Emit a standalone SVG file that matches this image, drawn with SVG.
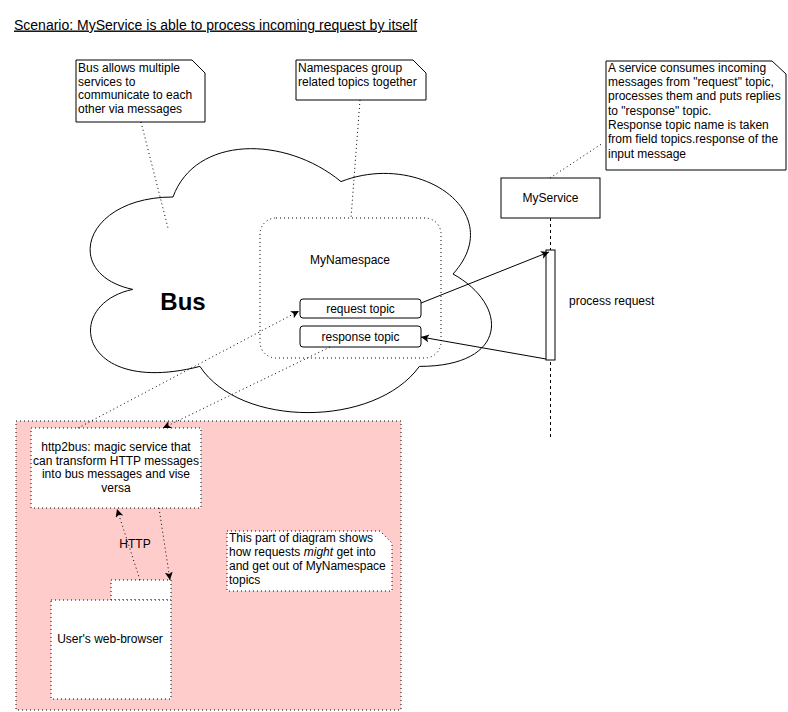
<svg xmlns="http://www.w3.org/2000/svg" width="788" height="712" viewBox="0 0 788 712">
<style>
  text { font-family: "Liberation Sans", Arial, Helvetica, sans-serif; font-size: 12px; fill: #000; }
  .c { text-anchor: middle; }
  .box { fill: #fff; stroke: #000; stroke-width: 1; }
  .dot { stroke: #000; stroke-width: 1; stroke-dasharray: 1 3; fill: none; }
  .dotbox { fill: #fff; stroke: #000; stroke-width: 1; stroke-dasharray: 1 3; }
  .solid { stroke: #000; stroke-width: 1; fill: none; }
</style>
<defs>
  <marker id="arr" markerUnits="userSpaceOnUse" markerWidth="10" markerHeight="9" refX="8" refY="4" orient="auto">
    <path d="M0,0 L8,4 L0,8 L2,4 Z" fill="#000" stroke="none"/>
  </marker>
</defs>
<rect x="0" y="0" width="788" height="712" fill="#fff"/>

<g id="title">
  <text x="14" y="29.5" style="font-size:14px" text-decoration="underline">Scenario: MyService is able to process incoming request by itself</text>
</g>

<g id="pink-area">
  <rect x="16" y="421" width="385" height="289" fill="#FFCCCC" stroke="#000" stroke-dasharray="1 3"/>
</g>

<g id="bus-cloud">
  <path class="box" d="M173,197 C83.4,197 61,274 132.7,289.4 C61,304.8 78.9,397.2 199.9,366.4 C240.2,428 374.6,428 419.4,366.4 C509,366.4 509,304.8 453,274 C509,212.4 419.4,150.8 341,181.6 C285,135.4 195.4,135.4 173,197 Z"/>
  <text x="183" y="310" class="c" style="font-size:24px;font-weight:bold">Bus</text>
</g>

<g id="my-namespace">
  <rect x="260" y="218" width="181" height="140" rx="16" ry="16" class="dot"/>
  <text x="350" y="264" class="c">MyNamespace</text>
</g>

<g id="request-topic">
  <rect x="300" y="299" width="121" height="19" rx="3" ry="3" class="box"/>
  <text x="360.5" y="312.5" class="c">request topic</text>
</g>

<g id="response-topic">
  <rect x="300" y="326" width="121" height="21" rx="3" ry="3" class="box"/>
  <text x="360.5" y="340.5" class="c">response topic</text>
</g>

<g id="note-bus">
  <path class="box" d="M76,60 L192,60 L205,73 L205,122 L76,122 Z"/>
  <text x="78" y="72">Bus allows multiple</text>
  <text x="78" y="85.5">services to</text>
  <text x="78" y="99">communicate to each</text>
  <text x="78" y="112.5">other via messages</text>
</g>

<g id="note-namespaces">
  <path class="box" d="M296,60 L413,60 L426,73 L426,100 L296,100 Z"/>
  <text x="298" y="72">Namespaces group</text>
  <text x="298" y="85.5">related topics together</text>
</g>

<g id="note-service">
  <path class="box" d="M606,61 L772,61 L786,74 L786,170 L606,170 Z"/>
  <text x="608" y="72">A service consumes incoming</text>
  <text x="608" y="86">messages from "request" topic,</text>
  <text x="608" y="100.3">processes them and puts replies</text>
  <text x="608" y="114.6">to "response" topic.</text>
  <text x="608" y="128.9">Response topic name is taken</text>
  <text x="608" y="143.2">from field topics.response of the</text>
  <text x="608" y="157.5">input message</text>
</g>

<g id="my-service">
  <line x1="550.5" y1="218" x2="550.5" y2="440" stroke="#000" stroke-dasharray="3 3"/>
  <rect x="501" y="178" width="99" height="40" class="box"/>
  <text x="550.5" y="202" class="c">MyService</text>
  <rect x="546" y="250" width="9" height="110" class="box"/>
  <text x="569" y="305">process request</text>
</g>

<g id="http2bus">
  <rect x="31" y="428" width="170" height="80" class="dotbox"/>
  <text x="116" y="451" class="c">http2bus: magic service that</text>
  <text x="116" y="464.5" class="c">can transform HTTP messages</text>
  <text x="116" y="478" class="c">into bus messages and vise</text>
  <text x="116" y="491.5" class="c">versa</text>
</g>

<g id="web-browser">
  <rect x="111" y="580" width="60" height="20" class="dotbox"/>
  <rect x="51" y="600" width="120" height="99" class="dotbox"/>
  <text x="110" y="643" class="c">User's web-browser</text>
</g>

<g id="note-part">
  <path class="dotbox" d="M227,531 L380,531 L392,543 L392,591 L227,591 Z"/>
  <text x="229" y="541.8">This part of diagram shows</text>
  <text x="229" y="556">how requests <tspan font-style="italic">might</tspan> get into</text>
  <text x="229" y="570">and get out of MyNamespace</text>
  <text x="229" y="584">topics</text>
</g>

<g id="connectors">
  <line class="dot" x1="141" y1="122" x2="168" y2="228"/>
  <line class="dot" x1="360" y1="100" x2="351" y2="218"/>
  <line class="dot" x1="550" y1="178" x2="603" y2="143"/>
  <line class="solid" x1="421" y1="303" x2="549" y2="252" marker-end="url(#arr)"/>
  <line class="solid" x1="546" y1="359" x2="421" y2="337" marker-end="url(#arr)"/>
  <line class="dot" x1="78" y1="428" x2="299" y2="311" marker-end="url(#arr)"/>
  <line class="dot" x1="330" y1="347" x2="163" y2="428" marker-end="url(#arr)"/>
  <line class="dot" x1="140" y1="580" x2="117" y2="509" marker-end="url(#arr)"/>
  <line class="dot" x1="159" y1="508" x2="170" y2="580" marker-end="url(#arr)"/>
  <text x="135" y="548" class="c">HTTP</text>
</g>
</svg>
